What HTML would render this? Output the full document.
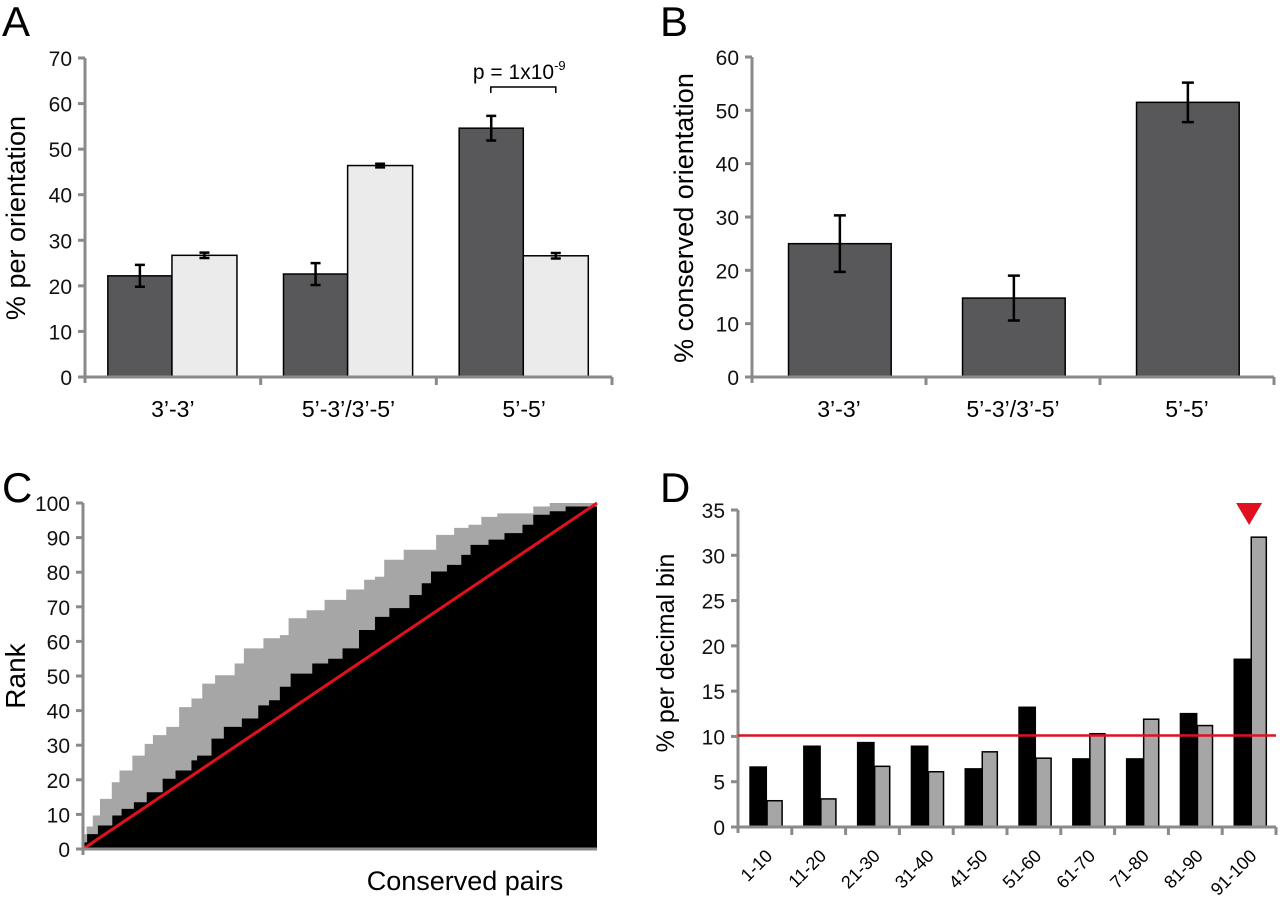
<!DOCTYPE html>
<html><head><meta charset="utf-8">
<style>
html,body{margin:0;padding:0;background:#fff;}
svg{display:block;font-family:"Liberation Sans",Arial,sans-serif;}
</style></head>
<body>
<svg id="fig" width="1280" height="903" viewBox="0 0 1280 903" xmlns="http://www.w3.org/2000/svg">
<text x="2" y="36" font-size="42">A</text>
<text x="660" y="36" font-size="42">B</text>
<text x="2" y="502" font-size="42">C</text>
<text x="660" y="502" font-size="42">D</text>
<g id="gA"></g>
<g id="gB"></g>
<g id="gC"></g>
<g id="gD"></g>
</svg>
<script>
// Panel A data
const aCategories = ["3\u2019-3\u2019", "5\u2019-3\u2019/3\u2019-5\u2019", "5\u2019-5\u2019"];
const aDark = [22.2, 22.6, 54.6];
const aDarkErr = [2.4, 2.4, 2.7];
const aLight = [26.7, 46.4, 26.6];
const aLightErr = [0.6, 0.4, 0.6];
const aTicks = [0,10,20,30,40,50,60,70];
// Panel B data
const bCategories = ["3\u2019-3\u2019", "5\u2019-3\u2019/3\u2019-5\u2019", "5\u2019-5\u2019"];
const bValues = [25.0, 14.8, 51.5];
const bErr = [5.3, 4.2, 3.7];
const bTicks = [0,10,20,30,40,50,60];
// Panel C data (x = % of conserved pairs, y = rank)
const cGrayX = [0,0.7,1.9,3.3,5.6,7.1,9.6,12.0,13.6,16.2,18.7,21.1,23.2,25.7,29.5,31.3,35.1,38.3,40.0,43.5,47.0,51.2,54.7,56.8,58.6,62.4,68.7,72.2,75.0,77.5,80.6,87.6,90.8];
const cGrayY = [4.3,6.5,9.7,14.5,19.3,22.7,27,30.4,32.9,35.3,41,43.5,47.8,50.2,53.6,58,60.9,61.8,66.7,69,72,75,77.8,78.7,83.6,86.5,90.8,92.8,93.7,96,97,99,100];
const cBlackX = [0,0.8,2.9,5.7,7.5,9.9,12.4,15.5,18.0,21.1,22.2,25.0,27.4,30.9,34.1,36.2,38.3,40.4,44.6,47.7,50.5,53.7,56.8,59.6,63.5,65.9,67.7,70.8,73.6,75.4,78.9,82.0,85.5,87.6,90.8,93.9];
const cBlackY = [1.9,4.3,6.8,9.7,11.6,13.5,16.4,20.3,22.7,25.6,27,31.9,35.3,37.7,41.5,43,46.9,50.7,53.6,55,58,63.3,67.1,69.6,73.4,76.8,80.2,82.1,85,87.9,89.4,91.3,93.7,96.6,97.6,99,100];
const cTicks = [0,10,20,30,40,50,60,70,80,90,100];
// Panel D data
const dCategories = ["1-10","11-20","21-30","31-40","41-50","51-60","61-70","71-80","81-90","91-100"];
const dBlack = [6.7, 9.0, 9.4, 9.0, 6.5, 13.3, 7.6, 7.6, 12.6, 18.6];
const dGray = [2.9, 3.1, 6.7, 6.1, 8.3, 7.6, 10.3, 11.9, 11.2, 32.0];
const dExpected = [10.1];
const dTicks = [0,5,10,15,20,25,30,35];

const NS = "http://www.w3.org/2000/svg";
function mk(parent, tag, attrs, text){
  const e = document.createElementNS(NS, tag);
  for (const k in attrs) e.setAttribute(k, attrs[k]);
  if (text !== undefined) e.textContent = text;
  parent.appendChild(e);
  return e;
}
const AXC = "#8a8a8a";

function axes(g, x0, x1, y0, yScale, ticks, nGroups){
  let e = mk(g,"line",{x1:x0,y1:y0+6,x2:x0,y2:yScale(ticks[ticks.length-1]),stroke:AXC,"stroke-width":3});
  
  
  e = mk(g,"line",{x1:x0,y1:y0,x2:x1,y2:y0,stroke:AXC,"stroke-width":3});
  
  
  ticks.forEach(t=>{
    const y = yScale(t);
    let l = mk(g,"line",{x1:x0-7,y1:y,x2:x0,y2:y,stroke:AXC,"stroke-width":3});
    
    
    let tx = mk(g,"text",{x:x0-13,y:y+8,"font-size":21,"text-anchor":"end",fill:"#111"},String(t));
    
    
  });
  if (nGroups){
    const gw = (x1-x0)/nGroups;
    for (let i=1;i<=nGroups;i++){
      let l = mk(g,"line",{x1:x0+gw*i,y1:y0,x2:x0+gw*i,y2:y0+8,stroke:AXC,"stroke-width":3});
      
      
    }
  }
}

// ---------- Panel A ----------
(function(){
  const g = document.getElementById("gA");
  const x0=85, x1=612, y0=377, yTop=58, max=70;
  const ys = v => y0 - v/max*(y0-yTop);
  const gw = (x1-x0)/aCategories.length;
  aCategories.forEach((c,i)=>{
    const gx = x0+gw*i;
    const dx0 = gx+gw*0.13, dx1 = gx+gw*0.495, lx1 = gx+gw*0.865;
    let r = mk(g,"rect",{x:dx0,y:ys(aDark[i]),width:dx1-dx0,height:y0-ys(aDark[i]),fill:"#58585a",stroke:"#000","stroke-width":1.5});
    
    
    r = mk(g,"rect",{x:dx1,y:ys(aLight[i]),width:lx1-dx1,height:y0-ys(aLight[i]),fill:"#ebebeb",stroke:"#000","stroke-width":1.5});
    
    
    [[ (dx0+dx1)/2, aDark[i], aDarkErr[i]], [(dx1+lx1)/2, aLight[i], aLightErr[i]]].forEach(([cx,v,e])=>{
      const p = mk(g,"path",{d:`M${cx-5},${ys(v+e)}H${cx+5}M${cx},${ys(v+e)}V${ys(v-e)}M${cx-5},${ys(v-e)}H${cx+5}`,stroke:"#000","stroke-width":2.5,fill:"none"});
      
      
    });
    const t = mk(g,"text",{x:gx+gw/2,y:y0+40,"font-size":23,"text-anchor":"middle"},c);
    
    
  });
  axes(g,x0,x1,y0,ys,aTicks,3);
  const gx = x0+gw*2;
  const bx0 = gx+gw*0.31, bx1 = gx+gw*0.68;
  const br = mk(g,"path",{d:`M${bx0},93V87H${bx1}V93`,stroke:"#000","stroke-width":1.5,fill:"none"});
  
  
  const pt = mk(g,"text",{x:(bx0+bx1)/2-4,y:79,"font-size":21,"text-anchor":"middle"});
  
  
  pt.innerHTML = 'p = 1x10<tspan dy="-9" font-size="13">-9</tspan>';
  const yt = mk(g,"text",{transform:"translate(25,218) rotate(-90)","font-size":27,"text-anchor":"middle"},"% per orientation");
  
  
})();

// ---------- Panel B ----------
(function(){
  const g = document.getElementById("gB");
  const x0=752, x1=1274, y0=377, yTop=57, max=60;
  const ys = v => y0 - v/max*(y0-yTop);
  const gw = (x1-x0)/bCategories.length;
  bCategories.forEach((c,i)=>{
    const gx = x0+gw*i;
    const bx0 = gx+gw*0.21, bx1 = gx+gw*0.80;
    let r = mk(g,"rect",{x:bx0,y:ys(bValues[i]),width:bx1-bx0,height:y0-ys(bValues[i]),fill:"#58585a",stroke:"#000","stroke-width":1.5});
    
    
    const cx=(bx0+bx1)/2, v=bValues[i], e=bErr[i];
    const p = mk(g,"path",{d:`M${cx-6},${ys(v+e)}H${cx+6}M${cx},${ys(v+e)}V${ys(v-e)}M${cx-6},${ys(v-e)}H${cx+6}`,stroke:"#000","stroke-width":2.5,fill:"none"});
    
    
    const t = mk(g,"text",{x:gx+gw/2,y:y0+40,"font-size":23,"text-anchor":"middle"},c);
    
    
  });
  axes(g,x0,x1,y0,ys,bTicks,3);
  const yt = mk(g,"text",{transform:"translate(693,218) rotate(-90)","font-size":27,"text-anchor":"middle"},"% conserved orientation");
  
  
})();

// ---------- Panel C ----------
(function(){
  const g = document.getElementById("gC");
  const x0=83, x1=597, y0=849, yTop=503;
  const xs = v => x0 + v/100*(x1-x0);
  const ys = v => y0 - v/100*(y0-yTop);
  function stairs(X,Y){
    let d = `M${xs(0)},${ys(0)}`;
    for (let i=0;i<X.length;i++){
      const xa = xs(X[i]), xb = i+1<X.length ? xs(X[i+1]) : xs(100);
      d += `L${xa},${ys(Y[i])}L${xb},${ys(Y[i])}`;
    }
    d += `L${xs(100)},${ys(0)}Z`;
    return d;
  }
  let p = mk(g,"path",{d:stairs(cGrayX,cGrayY),fill:"#a6a6a6"});
  
  
  p = mk(g,"path",{d:stairs(cBlackX,cBlackY),fill:"#000"});
  
  
  const ln = mk(g,"line",{x1:xs(0),y1:ys(0),x2:xs(100),y2:ys(100),stroke:"#e0101e","stroke-width":3});
  
  
  axes(g,x0,x1,y0,ys,cTicks,0);
  const yt = mk(g,"text",{transform:"translate(25,676) rotate(-90)","font-size":28,"text-anchor":"middle"},"Rank");
  
  
  const xt = mk(g,"text",{x:465,y:890,"font-size":27,"text-anchor":"middle"},"Conserved pairs");
  
  
})();

// ---------- Panel D ----------
(function(){
  const g = document.getElementById("gD");
  const x0=738, x1=1276, y0=827, yTop=510, max=35;
  const ys = v => y0 - v/max*(y0-yTop);
  const gw = (x1-x0)/dCategories.length;
  dCategories.forEach((c,i)=>{
    const gx = x0+gw*i;
    const a = gx+gw*0.21, b = gx+gw*0.54, e = gx+gw*0.82;
    let r = mk(g,"rect",{x:a,y:ys(dBlack[i]),width:b-a,height:y0-ys(dBlack[i]),fill:"#000"});
    
    
    r = mk(g,"rect",{x:b,y:ys(dGray[i]),width:e-b,height:y0-ys(dGray[i]),fill:"#a6a6a6",stroke:"#000","stroke-width":1.5});
    
    
    const cx = gx+gw*0.66;
    const t = mk(g,"text",{x:cx,y:y0+30,"font-size":18,"text-anchor":"end",transform:`rotate(-45 ${cx} ${y0+30})`},c);
    
    
  });
  axes(g,x0,x1,y0,ys,dTicks,10);
  const rl = mk(g,"line",{x1:x0,y1:ys(dExpected[0]),x2:x1,y2:ys(dExpected[0]),stroke:"#e0101e","stroke-width":2.5});
  
  
  const tx = x0+gw*9.5;
  const tri = mk(g,"path",{d:`M${tx-13},503H${tx+13}L${tx},525Z`,fill:"#e0101e"});
  
  
  const yt = mk(g,"text",{transform:"translate(674,653) rotate(-90)","font-size":25,"text-anchor":"middle"},"% per decimal bin");
  
  
})();
</script>
</body></html>
